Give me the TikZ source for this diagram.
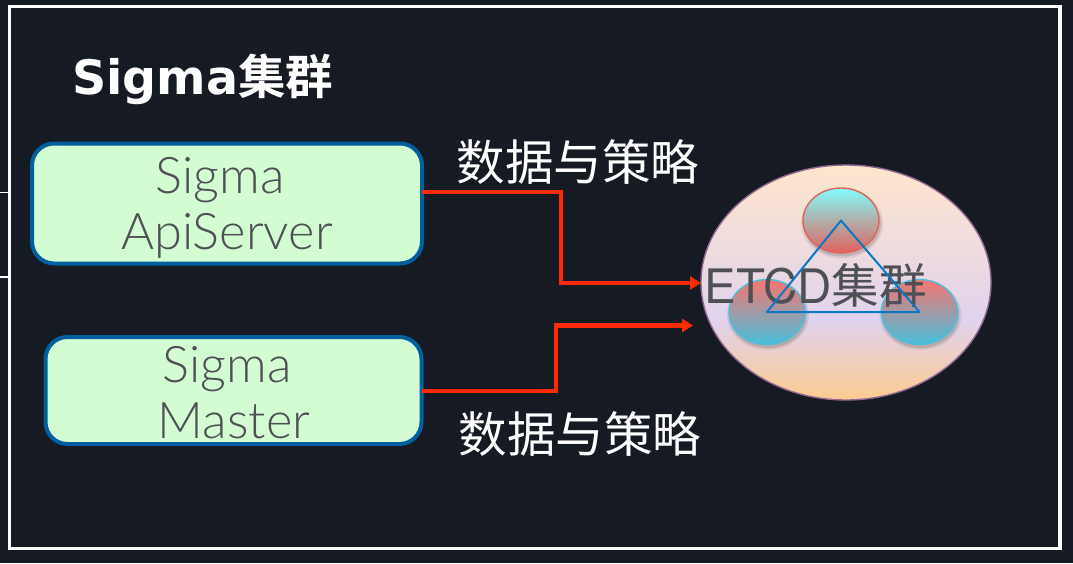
\documentclass[tikz,border=0pt]{standalone}
\usepackage{fontspec}
\usetikzlibrary{arrows.meta,calc}
\setmainfont{Lato Light}
\newfontfamily\heros{TeX Gyre Heros}
\newfontfamily\cjk{Noto Sans CJK SC}
\newfontfamily\cjkb{Noto Sans CJK SC Bold}
\newfontfamily\titlef{DejaVu Sans Bold}
\definecolor{bg}{HTML}{161A22}
\definecolor{boxfill}{HTML}{D3FCD3}
\definecolor{boxline}{HTML}{005F9E}
\definecolor{txt}{HTML}{4E5055}
\definecolor{arrowred}{HTML}{FF2A00}
\definecolor{tri}{HTML}{0B78C4}
\definecolor{bigtop}{HTML}{FFE5CC}
\definecolor{bigmid}{HTML}{E0D3EE}
\definecolor{bigbot}{HTML}{FCCB90}
\definecolor{sred}{HTML}{E2625C}
\definecolor{scyan}{HTML}{80FCFC}
\definecolor{scyan2}{HTML}{48BFDC}
\definecolor{sred2}{HTML}{F87570}
\pgfdeclareverticalshading{bigshade}{100bp}{color(0bp)=(bigbot);color(25bp)=(bigbot);color(42bp)=(bigmid);color(75bp)=(bigtop);color(100bp)=(bigtop)}
\pgfdeclareverticalshading{upshade}{100bp}{color(0bp)=(sred);color(25bp)=(sred);color(75bp)=(scyan);color(100bp)=(scyan)}
\pgfdeclareverticalshading{downshade}{100bp}{color(0bp)=(scyan2);color(25bp)=(scyan2);color(75bp)=(sred2);color(100bp)=(sred2)}
\tikzset{
  x=1pt,y=-1pt,
  panel/.style={draw=boxline,fill=boxfill,line width=4pt,rounded corners=22pt,inner sep=0pt},
  bodytext/.style={text=txt,font=\fontsize{50.5}{56}\selectfont,align=center,inner sep=0pt},
  label/.style={text=white,font=\cjk\fontsize{48.5}{48.5}\selectfont,inner sep=0pt},
  flow/.style={draw=arrowred,line width=4.2pt,-{Triangle[length=11pt,width=13pt]},line join=miter},
  member/.style={line width=1.4pt},
}
\begin{document}
\begin{tikzpicture}
\useasboundingbox (0,0) rectangle (1073,563);
\fill[bg] (0,0) rectangle (1073,563);
\draw[white,line width=1pt] (0,192) -- (9,192);
\draw[white,line width=1.5pt] (0,277) -- (9,277);
\draw[white,line width=3.6pt] (9.5,6.5) rectangle (1060,548.5);
\node[anchor=base west,text=white,inner sep=0pt] (title) at (72,94) {\fontsize{47.5}{47.5}\selectfont\titlef Sigma\cjkb\fontsize{47.5}{47.5}\selectfont 集群};
% boxes
\node[panel,minimum width=390pt,minimum height=120pt] (api) at (227,203.5) {};
\node[panel,minimum width=376pt,minimum height=107pt] (master) at (233.5,390.5) {};
\node[bodytext] (apit) at (227,208) {Sigma\hspace*{14pt}\\ApiServer};
\node[bodytext] (mastert) at (234,393) {Sigma\hspace*{14pt}\\Master};
% labels
\node[label] (l1) at (578,162) {数据与策略};
\node[label] (l2) at (580,434) {数据与策略};
% big ellipse
\coordinate (cc) at (846,282.5);
\path[shading=bigshade,draw=none] (cc) ellipse [x radius=145pt,y radius=117.5pt];
\draw[color=violet!40!gray!85,line width=1.4pt] (cc) ellipse [x radius=145pt,y radius=117.5pt];
% members
\coordinate (top) at (841,220.5);
\coordinate (left) at (767,312);
\coordinate (right) at (919.5,312);
\foreach \k in {top,left,right}{
  \fill[black,opacity=.08] ($(\k)+(1,3)$) ellipse [x radius=41pt,y radius=35pt];
  \fill[black,opacity=.12] ($(\k)+(1,3)$) ellipse [x radius=39pt,y radius=33pt];
}
\path[shading=upshade] (top) ellipse [x radius=38pt,y radius=32.5pt];
\draw[sred,member] (top) ellipse [x radius=38pt,y radius=32.5pt];
\path[shading=downshade] (left) ellipse [x radius=38pt,y radius=32.5pt];
\draw[scyan2,member] (left) ellipse [x radius=38pt,y radius=32.5pt];
\path[shading=downshade] (right) ellipse [x radius=38pt,y radius=32.5pt];
\draw[scyan2,member] (right) ellipse [x radius=38pt,y radius=32.5pt];
\node[text=txt,inner sep=0pt,font=\fontsize{47.5}{47.5}\selectfont] (etcd) at (815.5,285) {\heros ETCD{\cjk 集群}};
\draw[tri,line width=2pt,line join=round] (top) -- (left) -- (right) -- cycle;
% connectors
\coordinate (a0) at (api.east |- 0,192);
\coordinate (a1) at ($(a0)+(-2,0)$);
\coordinate (a2) at (701,283);
\coordinate (b0) at (master.east |- 0,391);
\coordinate (b1) at ($(b0)+(-2,0)$);
\coordinate (b2) at (693,325.5);
\draw[flow] (a1) -- (561,192) -- (561,283) -- (a2);
\draw[flow] (b1) -- (556,391) -- (556,325.5) -- (b2);
\end{tikzpicture}
\end{document}
